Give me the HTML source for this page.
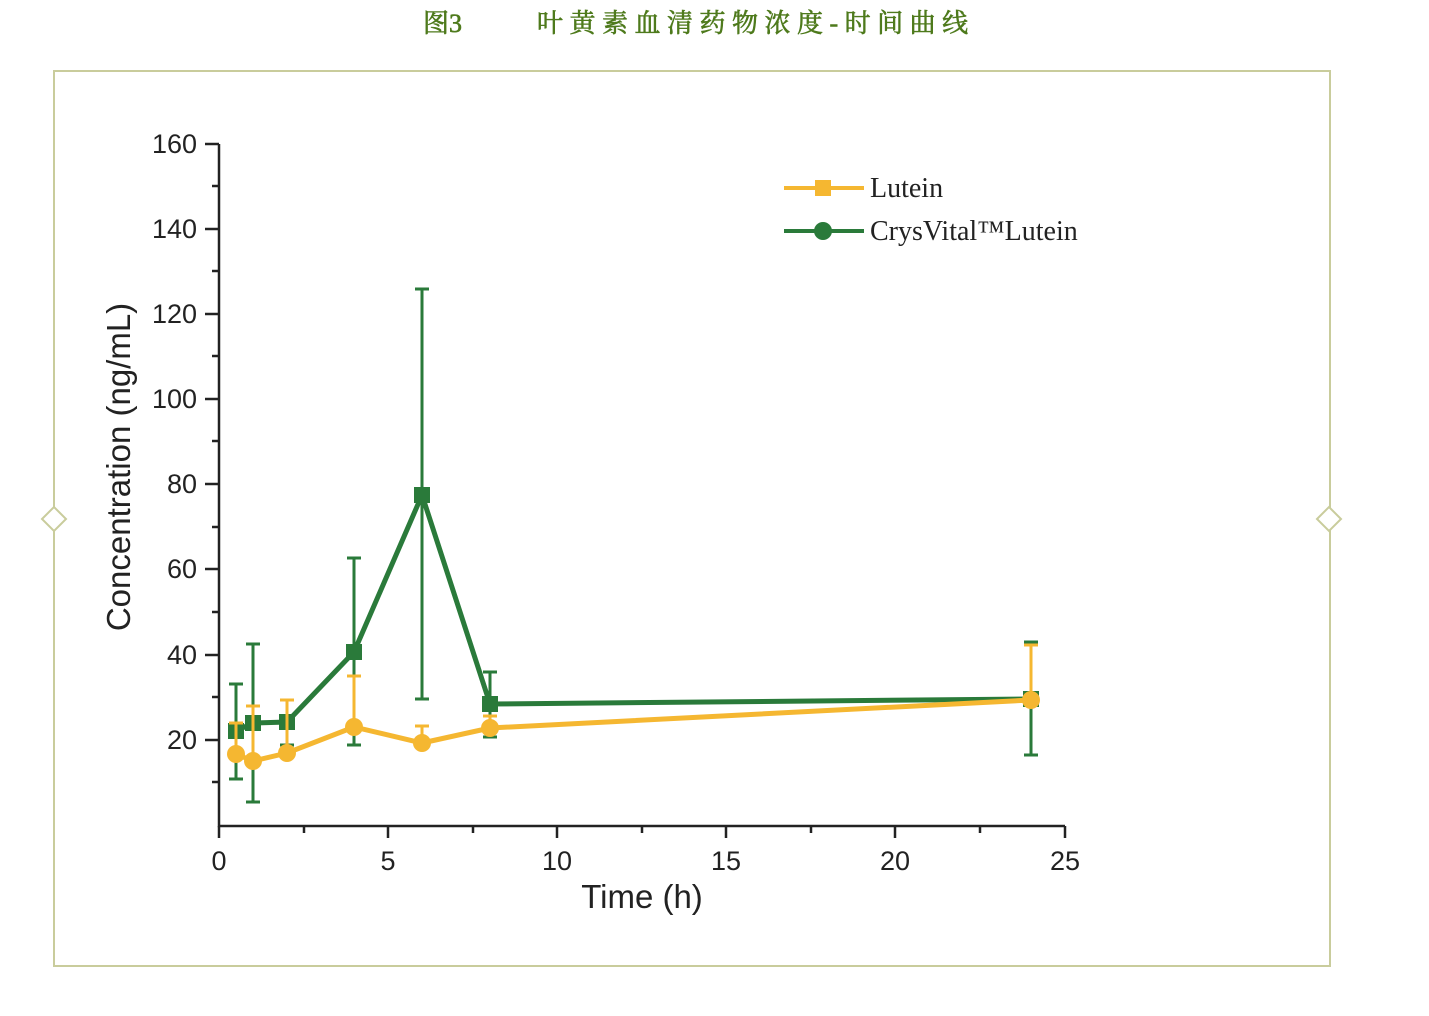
<!DOCTYPE html><html><head><meta charset="utf-8"><style>body{margin:0;background:#fff}</style></head><body>
<svg width="1429" height="1011" xmlns="http://www.w3.org/2000/svg" font-family="Liberation Sans, sans-serif">
<text x="423" y="32" font-size="26" fill="#4e7a1c" stroke="#4e7a1c" stroke-width="0.6" font-family="Liberation Serif, Noto Serif CJK SC, serif">图3</text>
<text x="537" y="32" font-size="26" fill="#4e7a1c" stroke="#4e7a1c" stroke-width="0.6" letter-spacing="6.5" font-family="Liberation Serif, Noto Serif CJK SC, serif">叶黄素血清药物浓度-时间曲线</text>
<rect x="54" y="71" width="1276" height="895" fill="none" stroke="#c9cc9c" stroke-width="2"/>
<path d="M42 519l12-12 12 12-12 12z M1317 519l12-12 12 12-12 12z" fill="#fff" stroke="#c9cc9c" stroke-width="2"/>
<g stroke="#222" stroke-width="2.5" fill="none">
<path d="M219 144V826H1065"/>
<path d="M205 144h14M205 229h14M205 314h14M205 399h14M205 484h14M205 569h14M205 655h14M205 740h14"/>
<path d="M212 186h7M212 271h7M212 356h7M212 441h7M212 527h7M212 612h7M212 697h7M212 782h7"/>
<path d="M219 826v12M388 826v12M557 826v12M726 826v12M895 826v12M1065 826v12"/>
<path d="M304 826v7M473 826v7M642 826v7M811 826v7M980 826v7"/>
</g>
<g font-size="27" fill="#222" text-anchor="end">
<text x="197" y="153">160</text><text x="197" y="238">140</text><text x="197" y="323">120</text><text x="197" y="408">100</text><text x="197" y="493">80</text><text x="197" y="578">60</text><text x="197" y="664">40</text><text x="197" y="749">20</text>
</g>
<g font-size="27" fill="#222" text-anchor="middle">
<text x="219" y="870">0</text><text x="388" y="870">5</text><text x="557" y="870">10</text><text x="726" y="870">15</text><text x="895" y="870">20</text><text x="1065" y="870">25</text>
<text x="642" y="908" font-size="33">Time (h)</text>
<text transform="translate(130,467) rotate(-90)" font-size="33">Concentration (ng/mL)</text>
</g>
<g stroke="#2a7a3a" stroke-width="3">
<path d="M236 684v95M253 644v158M287 700v45M354 558v187M422 289v410M490 672v65M1031 642v113M229 684h14M229 779h14M246 644h14M246 802h14M280 700h14M280 745h14M347 558h14M347 745h14M415 289h14M415 699h14M483 672h14M483 737h14M1024 642h14M1024 755h14"/>
</g>
<polyline points="236,731 253,723 287,722 354,652 422,495 490,704 1031,699" fill="none" stroke="#2a7a3a" stroke-width="5"/>
<g fill="#2a7a3a"><rect x="228" y="723" width="16" height="16"/><rect x="245" y="715" width="16" height="16"/><rect x="279" y="714" width="16" height="16"/><rect x="346" y="644" width="16" height="16"/><rect x="414" y="487" width="16" height="16"/><rect x="482" y="696" width="16" height="16"/><rect x="1023" y="691" width="16" height="16"/></g>
<g stroke="#f5b731" stroke-width="3">
<path d="M236 723v31M253 706v55M287 700v53M354 676v51M422 726v17M490 716v12M1031 645v55M229 723h14M246 706h14M280 700h14M347 676h14M415 726h14M483 716h14M1024 645h14"/>
</g>
<polyline points="236,754 253,761 287,753 354,727 422,743 490,728 1031,700" fill="none" stroke="#f5b731" stroke-width="5"/>
<g fill="#f5b731"><circle cx="236" cy="754" r="9"/><circle cx="253" cy="761" r="9"/><circle cx="287" cy="753" r="9"/><circle cx="354" cy="727" r="9"/><circle cx="422" cy="743" r="9"/><circle cx="490" cy="728" r="9"/><circle cx="1031" cy="700" r="9"/></g>
<path d="M784 188h80" stroke="#f5b731" stroke-width="4"/><rect x="815" y="180" width="16" height="16" fill="#f5b731"/>
<path d="M784 231h80" stroke="#2a7a3a" stroke-width="4"/><circle cx="823" cy="231" r="9" fill="#2a7a3a"/>
<g font-size="28" fill="#222" font-family="Liberation Serif, serif"><text x="870" y="197">Lutein</text><text x="870" y="240">CrysVital™Lutein</text></g>
</svg></body></html>
